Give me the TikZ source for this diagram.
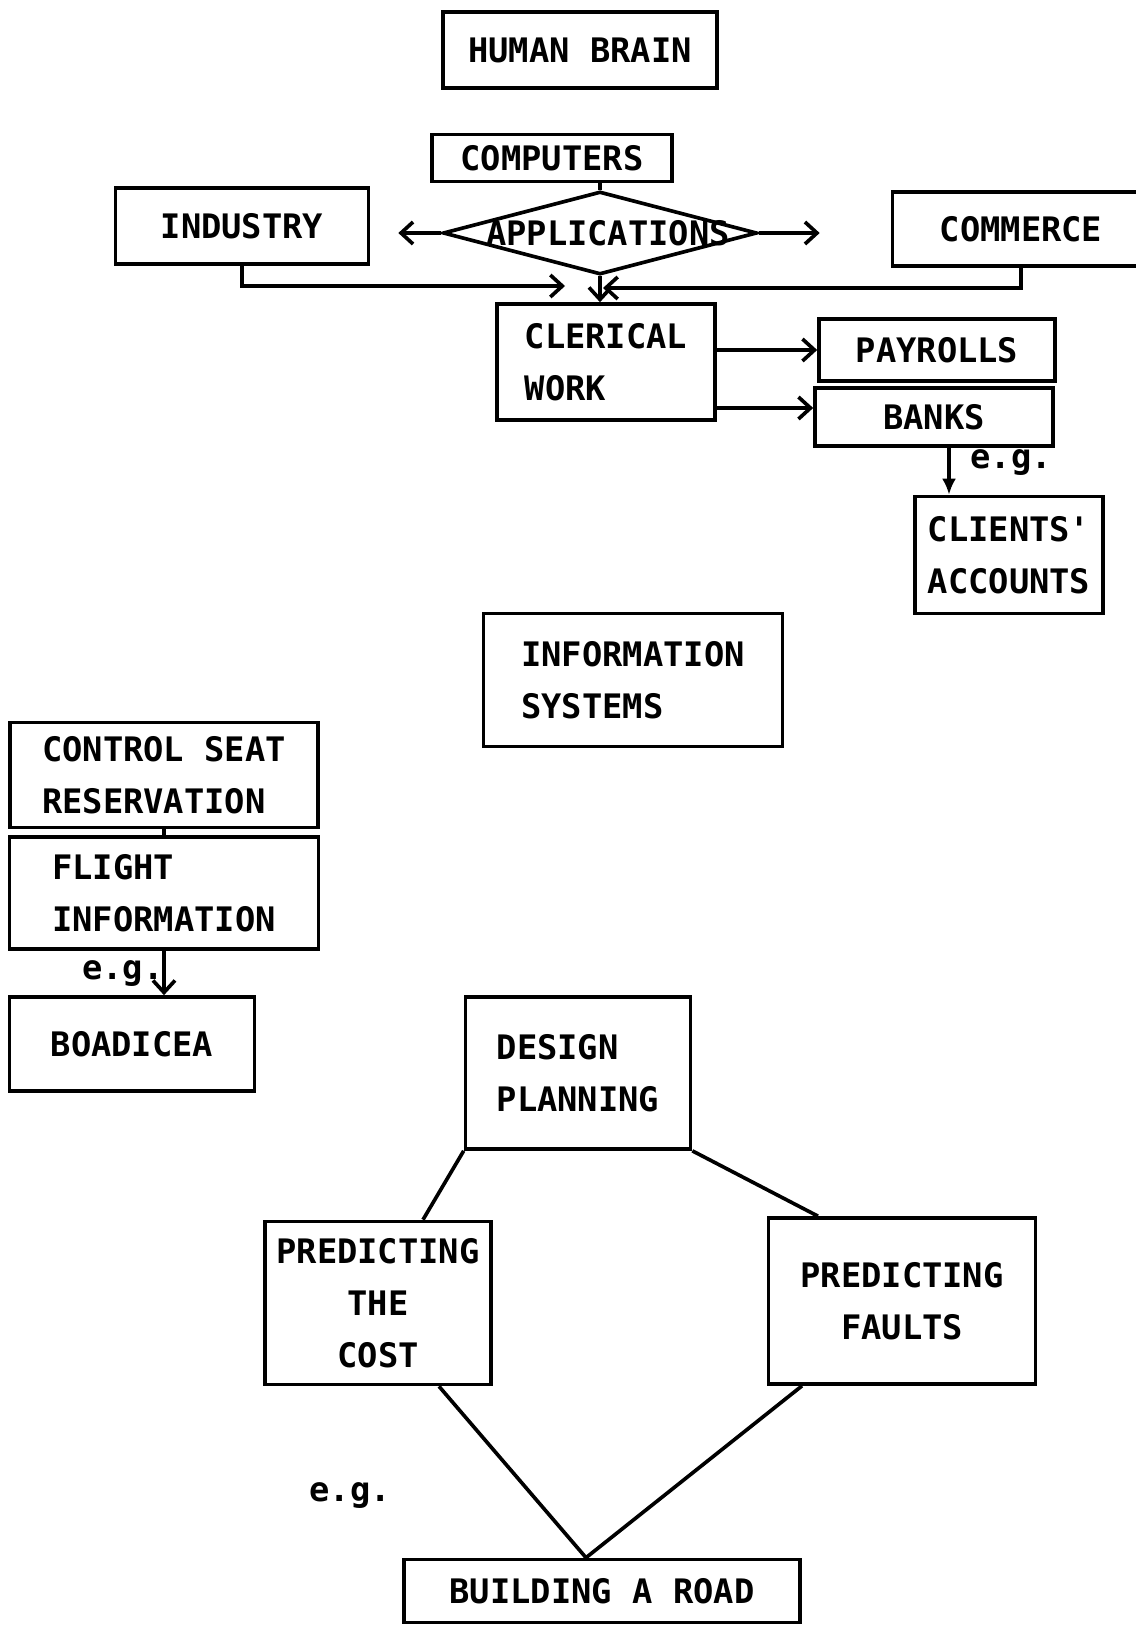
\documentclass[tikz,border=0pt]{standalone}
\usepackage{fontspec}
\newfontfamily\typefont{DejaVu Sans Mono}
\usetikzlibrary{calc,shapes.geometric,arrows.meta}

\begin{document}
\begin{tikzpicture}[x=0.25mm, y=-0.25mm,
		txt/.style={inner sep=0pt, align=left, font=\typefont\bfseries\fontsize{24}{37}\selectfont},
		box/.style={txt, draw, line width=2.6pt},
		line/.style={line width=2.6pt},
		arr/.style={line, -{Straight Barb[length=3mm, width=5.5mm, line width=2.6pt]}}]
			%%%%% START %%%%%
			\useasboundingbox (0,0) rectangle (1136,1625);
			
			\node[box, minimum width=68.5mm, minimum height=19mm] (brain) at (580,50) {HUMAN BRAIN};
			
			\node[box, minimum width=60mm, minimum height=11.75mm] (computers) at (552,158) {COMPUTERS};
			\node[box, minimum width=63.25mm, minimum height=19mm] (industry) at (242,226) {INDUSTRY};
			\node[diamond, draw, line, inner sep=0pt, minimum width=78.5mm, minimum height=20.75mm] (apps) at (600,233) {};
			\node[txt] (appstext) at (608,233) {APPLICATIONS};
			\node[box, minimum width=64.25mm, minimum height=18.5mm] (commerce) at (1021,229) {COMMERCE};
			
			\node[box, minimum width=54.5mm, minimum height=29mm] (clerical) at (606,362) {CLERICAL\\WORK};
			\node[box, minimum width=59mm, minimum height=15.5mm] (payrolls) at (937,350) {PAYROLLS};
			\node[box, minimum width=59.5mm, minimum height=14.5mm] (banks) at (934,417) {BANKS};
			\node[box, minimum width=47mm, minimum height=29.25mm] (clients) at (1009,555) {CLIENTS'\\ACCOUNTS};
			\node[txt] (egbank) at (1011,463) {e.g.};
			
			\coordinate (inleft) at (565,286);
			\coordinate (inright) at (603,288);
			\draw[line] (apps.north |- computers.south) -- (apps.north);
			\draw[arr, shorten >=7mm] (apps.west) -- (apps.west -| industry.east);
			\draw[arr, shorten >=17.75mm] (apps.east) -- (apps.east -| commerce.west);
			\draw[arr] (apps.south) -- (apps.south |- clerical.north);
			\draw[arr] (industry.south) |- (inleft);
			\draw[arr] (commerce.south) |- (inright);
			\draw[arr] (payrolls.west -| clerical.east) -- (payrolls.west);
			\draw[arr] ([yshift=2.25mm]banks.west -| clerical.east) -- ([yshift=2.25mm]banks.west);
			\draw[line, -{Latex[length=4mm, width=3.5mm]}] ([xshift=3.75mm]banks.south) -- ([xshift=3.75mm]banks.south |- clients.north);
			
			\node[box, minimum width=74.75mm, minimum height=33.25mm] (infosys) at (633,680) {INFORMATION\\SYSTEMS};
			
			\node[box, minimum width=77mm, minimum height=26.25mm] (seat) at (164,775) {CONTROL SEAT\\RESERVATION};
			\node[box, minimum width=77.25mm, minimum height=28mm] (flight) at (164,893) {FLIGHT\\INFORMATION};
			\node[box, minimum width=61.25mm, minimum height=23.5mm] (boadicea) at (132,1044) {BOADICEA};
			\node[txt] (egflight) at (123,974) {e.g.};
			\draw[line] (seat.south) -- (flight.north);
			\draw[arr] (flight.south) -- (flight.south |- boadicea.north);
			
			\node[box, minimum width=56.25mm, minimum height=38mm] (design) at (578,1073) {DESIGN\\PLANNING};
			\node[box, align=center, minimum width=56.5mm, minimum height=40.75mm] (cost) at (378,1303) {PREDICTING\\THE\\COST};
			\node[box, align=center, minimum width=66.75mm, minimum height=41.5mm] (faults) at (902,1301) {PREDICTING\\FAULTS};
			\node[box, minimum width=99mm, minimum height=15.75mm] (road) at (602,1591) {BUILDING A ROAD};
			\node[txt] (egroad) at (350,1496) {e.g.};
			
			\draw[line] (design.south west) -- ([xshift=11.25mm]cost.north);
			\draw[line] (design.south east) -- ([xshift=-21mm]faults.north);
			\draw[line] ([xshift=15.25mm]cost.south) -- ([xshift=-4mm]road.north);
			\draw[line] ([xshift=-25mm]faults.south) -- ([xshift=-4mm]road.north);
			
			%%%%% END %%%%%
		\end{tikzpicture}
\end{document}
